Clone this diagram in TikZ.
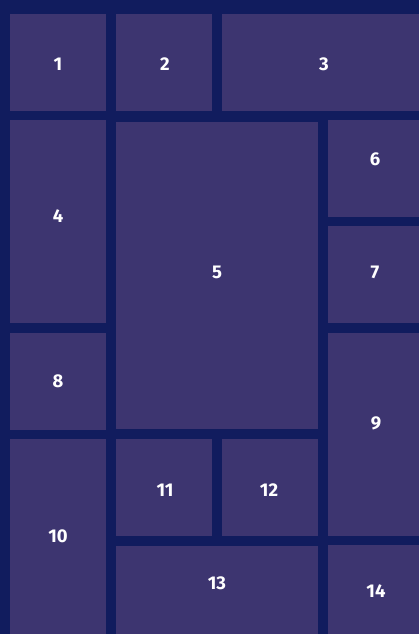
\documentclass[tikz,border=0pt]{standalone}
\usepackage{fontspec}
\setsansfont{Fira Sans}
\definecolor{mapNavy}{RGB}{17,28,94}
\definecolor{mapTile}{RGB}{61,53,112}

\begin{document}
\begin{tikzpicture}[x=1pt,y=-1pt,
  tilelabel/.style={text=white,inner sep=0pt,font=\sffamily\bfseries\fontsize{18.5}{18.5}\selectfont}]
  \fill[mapNavy] (0,0) rectangle (419,634);
  \useasboundingbox (0,0) rectangle (419,634);
  \foreach \n/\xa/\ya/\xb/\yb/\lx/\ly in {
      1/10/14/106/111/58/64,
      2/116/14/212/111/165/64,
      3/222/14/419/111/324/64,
      4/10/120/106/323/58/216,
      5/116/122/318/429/217/272,
      6/328/120/419/217/375/159,
      7/328/226/419/323/375/272,
      8/10/333/106/430/58/381,
      9/328/333/419/536/376/423,
      10/10/439/106/634/58/536,
      11/116/439/212/536/165/490,
      12/222/439/318/536/269/490,
      13/116/546/318/634/217/583,
      14/328/545/419/634/376/591}{
    \fill[mapTile] (\xa,\ya) rectangle (\xb,\yb);
    \node[tilelabel] (tile\n) at (\lx,\ly) {\n};
  }
\end{tikzpicture}
\end{document}
